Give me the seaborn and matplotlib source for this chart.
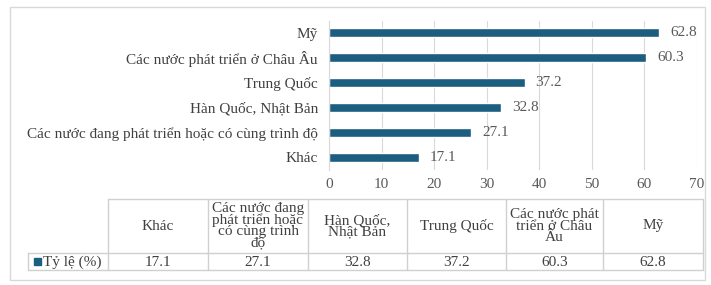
import matplotlib
matplotlib.use("Agg")
import matplotlib.pyplot as plt
import seaborn as sns
import pandas as pd
from matplotlib.lines import Line2D
from matplotlib.patches import Rectangle

# ---- data (table order) ----
categories = ["Khác",
              "Các nước đang phát triển hoặc có cùng trình độ",
              "Hàn Quốc, Nhật Bản",
              "Trung Quốc",
              "Các nước phát triển ở Châu Âu",
              "Mỹ"]
header_labels = ["Khác",
                 "Các nước đang\nphát triển hoặc\ncó cùng trình\nđộ",
                 "Hàn Quốc,\nNhật Bản",
                 "Trung Quốc",
                 "Các nước phát\ntriển ở Châu\nÂu",
                 "Mỹ"]
values = [17.1, 27.1, 32.8, 37.2, 60.3, 62.8]
series_name = "Tỷ lệ (%)"
xticks = [0, 10, 20, 30, 40, 50, 60, 70]

sns.set_theme(style="white")
plt.rcParams['font.family'] = ['Liberation Serif', 'DejaVu Serif']

W, H = 711, 285
fig = plt.figure(figsize=(W / 100, H / 100), dpi=100)
fig.patch.set_facecolor("white")

def fx(px):
    return px / W

def fy(py):
    return 1 - py / H

BAR = "#1b5e80"
TXT = "#404040"
GRID = "#d9d9d9"
FS = 11
FS_T = 11

# outer border
fig.add_artist(Rectangle((fx(10), fy(280)), fx(705) - fx(10), fy(7) - fy(280),
                         transform=fig.transFigure, fill=False,
                         edgecolor="#d9d9d9", linewidth=1.0))

# ---- bar chart ----
ax = fig.add_axes([fx(329), fy(169.5), fx(697) - fx(329), fy(20.5) - fy(169.5)])
df = pd.DataFrame({"cat": categories[::-1], "val": values[::-1]})
sns.barplot(data=df, y="cat", x="val", orient="h", color=BAR, width=0.36,
            saturation=1, ax=ax)
ax.set_xlim(0, 70)
ax.set_xticks(xticks)
ax.set_xticklabels([str(t) for t in xticks], color="#595959", fontsize=FS)
ax.tick_params(axis="y", labelsize=FS, labelcolor=TXT, length=0, pad=8)
ax.tick_params(axis="x", length=0, pad=6)
ax.set_xlabel("")
ax.set_ylabel("")
ax.grid(axis="x", color=GRID, linewidth=0.8)
ax.set_axisbelow(True)
for s in ["top", "right", "bottom"]:
    ax.spines[s].set_visible(False)
ax.spines["left"].set_color(GRID)
ax.spines["left"].set_linewidth(0.8)
for cont in ax.containers:
    ax.bar_label(cont, labels=[f"{v:.1f}" for v in cont.datavalues],
                 padding=8, fontsize=FS, color="#595959")

# ---- data table ----
col_edges = [108, 208, 308, 407, 506, 603, 703]
y_top, y_mid, y_bot = 199, 253, 270
legend_left = 28
LC = "#d0d0d0"

def hline(x0, x1, y):
    fig.add_artist(Line2D([fx(x0), fx(x1)], [fy(y), fy(y)], transform=fig.transFigure,
                          color=LC, linewidth=1.0))

def vline(x, y0, y1):
    fig.add_artist(Line2D([fx(x), fx(x)], [fy(y0), fy(y1)], transform=fig.transFigure,
                          color=LC, linewidth=1.0))

hline(col_edges[0], col_edges[-1], y_top)
hline(legend_left, col_edges[-1], y_mid)
hline(legend_left, col_edges[-1], y_bot)
for x in col_edges:
    vline(x, y_top, y_bot)
vline(legend_left, y_mid, y_bot)

for i, (lab, v) in enumerate(zip(header_labels, values)):
    cx = (col_edges[i] + col_edges[i + 1]) / 2
    fig.text(fx(cx), fy((y_top + y_mid) / 2), lab, ha="center", va="center",
             fontsize=FS_T, color=TXT, linespacing=0.82)
    fig.text(fx(cx), fy((y_mid + y_bot) / 2 + 0.5), f"{v:.1f}", ha="center", va="center",
             fontsize=FS_T, color=TXT)

# legend key
fig.add_artist(Rectangle((fx(34), fy(265)), fx(41) - fx(34), fy(258) - fy(265),
                         transform=fig.transFigure, color=BAR))
fig.text(fx(43), fy((y_mid + y_bot) / 2 + 0.5), series_name, ha="left", va="center",
         fontsize=FS_T, color=TXT)

fig.savefig("out.png", dpi=100)
